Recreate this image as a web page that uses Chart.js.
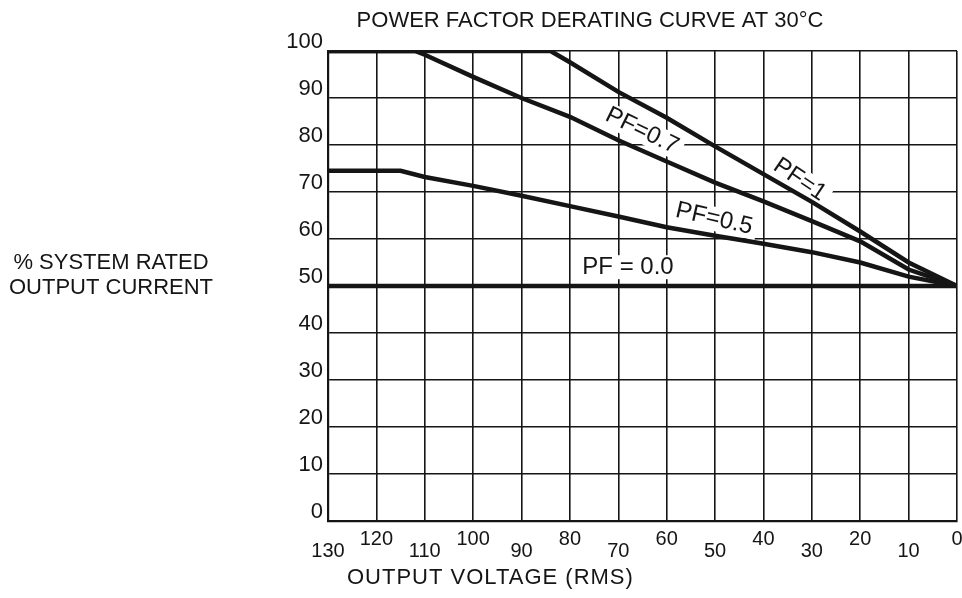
<!DOCTYPE html>
<html>
<head>
<meta charset="utf-8">
<script src="https://cdn.jsdelivr.net/npm/chart.js@4.4.1/dist/chart.umd.min.js"></script>
<style>
  html, body { margin: 0; padding: 0; background: #fff; }
  #wrap { width: 962px; height: 598px; }
</style>
</head>
<body>
<div id="wrap"><canvas id="chart" width="962" height="598"></canvas></div>
<script>
// output voltage (RMS) breakpoints and % rated current
var pf1Volts    = [130, 84, 80, 70, 60, 50, 40, 30, 20, 10, 0];
var pf1Current  = [100, 100, 97.6, 91.3, 85.8, 79.7, 73.8, 67.9, 61.6, 55, 50];

var pf07Volts   = [130, 112, 110, 100, 90, 80, 70, 60, 50, 40, 30, 20, 10, 0];
var pf07Current = [100, 100, 99.2, 94.5, 90, 86, 81, 76.5, 72, 68, 63.8, 59.5, 53.5, 50];

var pf05Volts   = [130, 115, 110, 100, 90, 80, 70, 60, 50, 40, 30, 20, 10, 0];
var pf05Current = [74.5, 74.5, 73.2, 71.3, 69.2, 67, 64.8, 62.5, 60.7, 59, 57.2, 55, 52, 50];

var pf0Volts    = [130, 0];
var pf0Current  = [50, 50];

var voltTicks    = [0, 10, 20, 30, 40, 50, 60, 70, 80, 90, 100, 110, 120, 130];
var currentTicks = [0, 10, 20, 30, 40, 50, 60, 70, 80, 90, 100];

var titleText  = 'POWER FACTOR DERATING CURVE AT 30°C';
var yTitle     = ['% SYSTEM RATED', 'OUTPUT CURRENT'];
var xTitle     = 'OUTPUT VOLTAGE (RMS)';

// curve names written on the plot, placed in data units
var noteText   = ['PF = 0.0', 'PF=0.5', 'PF=0.7', 'PF=1'];
var noteVolts  = [68, 50.2, 65.1, 32.5];
var noteCurr   = [54, 64.3, 83, 72.6];
var noteAngle  = [0, 13, 26, 34];

var ink = '#151515';
var face = '"Liberation Sans", Arial, sans-serif';

function pairUp(xs, ys) {
    return xs.map(function(v, i) { return { x: v, y: ys[i] }; });
}

// titles + curve names (the chart title plugin can't put these where the sheet has them)
var sheetText = {
    id: 'sheetText',
    beforeDatasetsDraw: function(chart) {
        var c = chart.ctx, xs = chart.scales.x, ys = chart.scales.y;
        c.save();
        c.font = '24px ' + face;
        noteText.forEach(function(t, i) {
            var w = c.measureText(t).width;
            c.save();
            c.translate(xs.getPixelForValue(noteVolts[i]), ys.getPixelForValue(noteCurr[i]));
            c.rotate(noteAngle[i] * Math.PI / 180);
            c.fillStyle = '#fff';
            c.fillRect(-w / 2 - 5, -12, w + 10, 24);
            c.restore();
        });
        c.restore();
    },
    afterDatasetsDraw: function(chart) {
        var c = chart.ctx, xs = chart.scales.x, ys = chart.scales.y;
        c.save();
        c.font = '24px ' + face;
        c.fillStyle = ink;
        c.textAlign = 'center';
        c.textBaseline = 'middle';
        noteText.forEach(function(t, i) {
            c.save();
            c.translate(xs.getPixelForValue(noteVolts[i]), ys.getPixelForValue(noteCurr[i]));
            c.rotate(noteAngle[i] * Math.PI / 180);
            c.fillText(t, 0, 0);
            c.restore();
        });
        c.restore();
    },
    afterDraw: function(chart) {
        var c = chart.ctx;
        c.save();
        c.fillStyle = ink;
        c.textBaseline = 'middle';
        c.textAlign = 'center';
        c.font = '22px ' + face;
        c.fillText(titleText, 590, 21);
        c.fillText(yTitle[0], 111, 263);
        c.fillText(yTitle[1], 111, 288);
        c.textAlign = 'left';
        c.letterSpacing = '1px';
        c.fillText(xTitle, 347, 578);
        c.restore();
    }
};

var lineStyle = { borderColor: ink, borderWidth: 4.5, pointRadius: 0, tension: 0, fill: false };

var chart = new Chart(document.getElementById('chart'), {
    type: 'line',
    data: {
        datasets: [
            Object.assign({ label: 'PF = 1',   data: pairUp(pf1Volts, pf1Current) }, lineStyle),
            Object.assign({ label: 'PF = 0.7', data: pairUp(pf07Volts, pf07Current) }, lineStyle),
            Object.assign({ label: 'PF = 0.5', data: pairUp(pf05Volts, pf05Current) }, lineStyle),
            Object.assign({ label: 'PF = 0.0', data: pairUp(pf0Volts, pf0Current) }, lineStyle)
        ]
    },
    options: {
        responsive: false,
        animation: false,
        devicePixelRatio: 1,
        layout: { padding: { top: 51, right: 5, left: 0, bottom: 0 } },
        plugins: { legend: { display: false }, tooltip: { enabled: false } },
        scales: {
            x: {
                type: 'linear',
                reverse: true,
                min: 0, max: 130,
                afterBuildTicks: function(s) { s.ticks = voltTicks.map(function(v) { return { value: v }; }); },
                afterFit: function(s) { s.height = 77; s.paddingLeft = 0; s.paddingRight = 0; },
                grid: { color: ink, lineWidth: 1.6, drawTicks: false },
                border: { color: ink, width: 2.2 },
                ticks: {
                    autoSkip: false, maxRotation: 0, padding: 12,
                    color: ink,
                    font: { family: face, size: 20, lineHeight: '12px' },
                    // the sheet staggers the voltage numbers up/down
                    callback: function(v) { return (v % 20 === 10) ? ['', String(v)] : [String(v), '']; }
                }
            },
            y: {
                min: 0, max: 100,
                afterBuildTicks: function(s) { s.ticks = currentTicks.map(function(v) { return { value: v }; }); },
                afterFit: function(s) { s.width = 328; },
                grid: { color: ink, lineWidth: 1.6, drawTicks: false },
                border: { color: ink, width: 2.2 },
                ticks: { padding: 5, labelOffset: -9, color: ink, font: { family: face, size: 22 } }
            }
        }
    },
    plugins: [sheetText]
});
</script>
</body>
</html>
